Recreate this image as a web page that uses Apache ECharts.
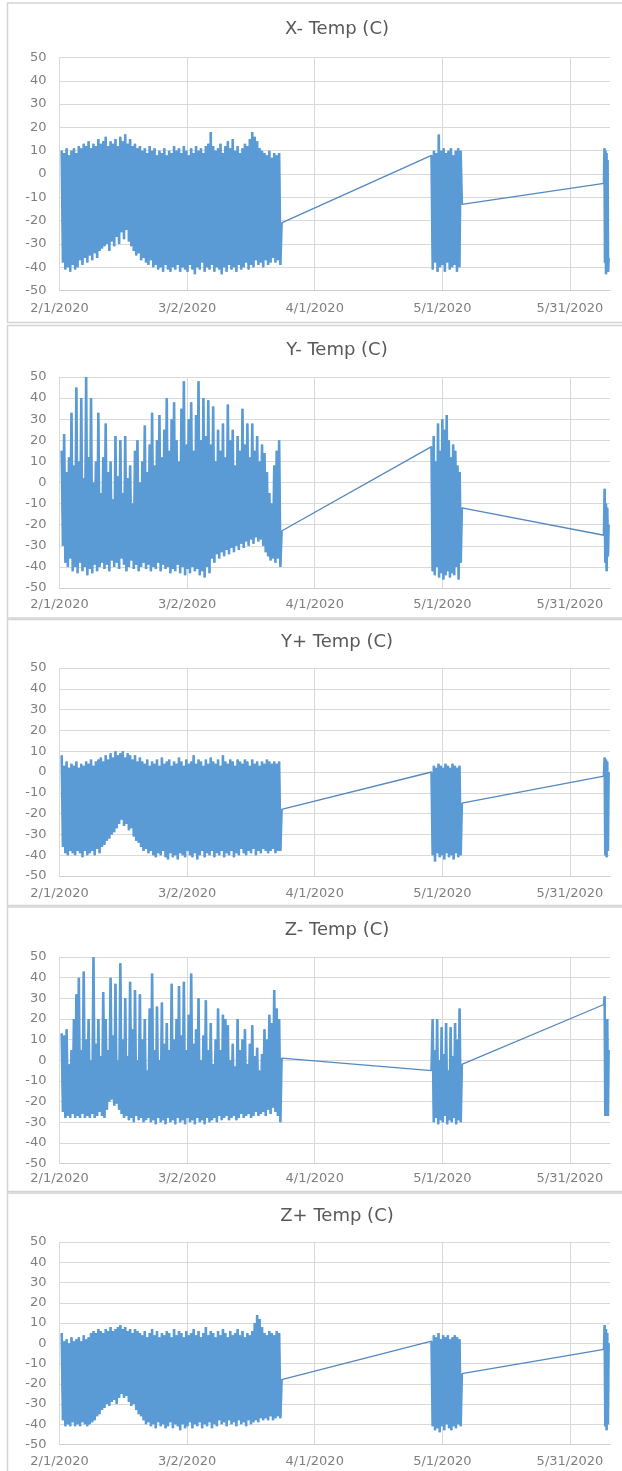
<!DOCTYPE html>
<html>
<head>
<meta charset="utf-8">
<script src="https://cdn.jsdelivr.net/npm/echarts@6/dist/echarts.min.js"></script>
<style>
html,body{margin:0;padding:0;background:#ffffff;}
#chart{width:622px;height:1471px;}
</style>
</head>
<body>
<div id="chart"></div>
<script>
// ---------------- DATA ----------------
const panelTitles = ['X- Temp (C)', 'Y- Temp (C)', 'Y+ Temp (C)', 'Z- Temp (C)', 'Z+ Temp (C)'];
const xTickLabels = ['2/1/2020', '3/2/2020', '4/1/2020', '5/1/2020', '5/31/2020'];
const axisStartDate = '2020-02-01T00:00:00Z';
const axisEndDate = '2020-06-09T10:00:00Z';
// logging periods (readings evenly spaced inside each period)
const seg1Dates = ['2020-02-01T12:30:00Z', '2020-03-24T05:00:00Z'];
const seg2Dates = ['2020-04-28T11:00:00Z', '2020-05-05T14:00:00Z'];
const seg3Dates = ['2020-06-08T00:00:00Z', '2020-06-09T02:00:00Z'];

const xMinusSeg1 = [
 10,-38, 9,-41, 11,-40, 8,-42, 10,-39, 11,-41, 9,-40, 12,-37, 11,-39, 13,-36,
 12,-38, 14,-35, 11,-37, 13,-34, 12,-36, 15,-33, 13,-32, 14,-31, 16,-30, 12,-33,
 14,-29, 13,-31, 15,-27, 12,-30, 16,-25, 14,-28, 17,-24, 13,-29, 15,-31, 12,-33,
 13,-35, 11,-34, 12,-37, 10,-36, 11,-38, 9,-39, 12,-37, 10,-40, 11,-39, 8,-41,
 10,-40, 9,-42, 11,-39, 8,-41, 10,-42, 9,-40, 12,-41, 10,-39, 11,-42, 9,-40,
 12,-41, 10,-42, 8,-39, 11,-41, 9,-43, 12,-40, 10,-41, 11,-38, 9,-42, 12,-40,
 13,-41, 18,-39, 12,-42, 10,-40, 11,-41, 13,-43, 9,-40, 12,-42, 14,-39, 11,-41,
 15,-40, 10,-42, 12,-39, 9,-41, 11,-40, 13,-38, 12,-41, 15,-39, 18,-40, 16,-37,
 14,-39, 11,-38, 10,-40, 9,-37, 8,-39, 10,-38, 7,-36, 9,-38, 8,-37, 9,-39, -21
];
const xMinusSeg2 = [8,-41, 10,-38, 9,-42, 17,-40, 10,-39, 11,-42, 9,-38, 10,-41, 11,-40, 8,-39, 10,-42, 11,-40, 10,-13];
const xMinusSeg3 = [-4, 11, -38, 10, -43, 9, -40, 6, -42, -36];

const yMinusSeg1 = [
 15,-30, 23,-38, 5,-40, 12,-36, 33,-42, 8,-40, 45,-43, 10,-38, 40,-42, 2,-40,
 50,-44, 12,-41, 40,-43, 0,-39, 10,-42, 33,-40, -5,-38, 12,-41, 28,-39, 5,-42,
 10,-37, -8,-40, 22,-38, 3,-41, 20,-36, -5,-39, 22,-42, 2,-40, 8,-37, -10,-41,
 15,-39, 20,-42, 0,-40, 10,-38, 27,-41, 5,-39, 18,-42, 33,-40, 8,-41, 20,-38,
 32,-42, 12,-39, 25,-41, 40,-40, 15,-43, 30,-41, 38,-42, 20,-39, 10,-43, 35,-40,
 48,-44, 18,-41, 30,-43, 38,-40, 15,-42, 32,-41, 48,-44, 20,-42, 40,-45, 22,-40,
 39,-43, 18,-36, 36,-38, 10,-34, 25,-36, 15,-33, 28,-35, 12,-32, 37,-34, 20,-31,
 25,-33, 8,-30, 22,-32, 15,-29, 35,-31, 18,-28, 28,-30, 12,-27, 28,-29, 15,-26,
 22,-28, 10,-27, 18,-30, 14,-33, 5,-35, -5,-37, -10,-36, 8,-38, 15,-36, 20,-40, -23
];
const yMinusSeg2 = [17,-42, 22,-44, 10,-40, 28,-45, 15,-43, 30,-46, 25,-44, 32,-42, 20,-45, 12,-43, 18,-44, 15,-40, 8,-46, 5,-38, -12];
const yMinusSeg3 = [-25, -3, -38, -10, -42, -12, -35, -20];

const yPlusSeg1 = [
 8,-36, 3,-39, 5,-40, 2,-38, 4,-39, 3,-40, 5,-38, 2,-39, 4,-41, 3,-38,
 5,-40, 4,-39, 6,-38, 3,-40, 5,-37, 6,-39,
 7,-36, 5,-35, 8,-33, 6,-32, 9,-30, 7,-29, 10,-27, 8,-25, 9,-23, 10,-26,
 7,-25, 9,-28, 8,-27, 6,-31, 8,-33, 5,-34, 7,-36,
 5,-38, 4,-37, 6,-39, 3,-38, 5,-40, 4,-41, 6,-39, 3,-40, 7,-38, 4,-41,
 5,-42, 6,-39, 3,-41, 5,-40, 4,-42, 7,-39, 5,-40, 3,-41, 6,-38, 4,-40,
 5,-41, 8,-39, 4,-42, 6,-40, 5,-38, 3,-41, 6,-39, 4,-40, 7,-38, 5,-41,
 4,-39, 6,-40, 3,-38, 8,-41, 5,-39, 4,-40, 6,-38, 5,-41, 3,-39, 6,-40,
 5,-37, 4,-39, 6,-40, 5,-38, 3,-39, 6,-37, 4,-40, 5,-38, 3,-39, 5,-37,
 4,-38, 6,-39, 5,-38, 4,-37, 5,-39, 4,-38, 5,-38, -18
];
const yPlusSeg2 = [0,-40, 3,-43, 2,-39, 4,-41, 3,-40, 2,-42, 4,-39, 3,-41, 2,-40, 4,-42, 3,-39, 2,-41, 3,-40, -15];
const yPlusSeg3 = [-2, 7, -40, 6, -41, 5, -38, 0];

const zMinusSeg1 = [
 13,-25, 12,-28, 15,-27, -2,-28, 5,-26, 20,-28, 32,-27, 40,-28, 5,-26, 43,-28,
 10,-27, 20,-28, 0,-26, 50,-28, 8,-27, 20,-25, 2,-27, 33,-28, 20,-24, 5,-20,
 40,-19, 12,-22, 37,-21, 0,-24, 47,-26, 10,-28, 30,-27, 2,-29, 38,-28, 15,-30,
 34,-27, 0,-29, 32,-28, 10,-30, 20,-29, -5,-28, 25,-30, 42,-29, 5,-31, 26,-28,
 0,-30, 28,-29, 8,-31, 18,-28, 5,-30, 37,-29, 10,-31, 20,-28, 36,-30, 12,-29,
 38,-31, 5,-28, 22,-30, 42,-29, 8,-31, 15,-28, 30,-30, 0,-29, 12,-31, 29,-28,
 5,-30, 18,-29, -2,-28, 10,-30, 25,-27, 5,-29, 22,-28, 20,-27, 17,-29, 0,-28,
 8,-27, -3,-29, 20,-28, 5,-26, 10,-28, 15,-27, -2,-26, 8,-28, 17,-27, 2,-25,
 6,-27, -5,-26, 3,-25, 15,-27, 10,-24, 22,-26, 18,-23, 34,-25, 25,-27, 20,-30, 1
];
const zMinusSeg2 = [-5, 20,-30, 5,-28, 20,-31, 0,-29, 16,-30, 3,-27, 18,-31, -5,-29, 16,-30, 2,-28, 18,-31, 10,-29, 25,-30, -2];
const zMinusSeg3 = [27, 31, -27, 10, -22, 20, -27, 5];

const zPlusSeg1 = [
 5,-38, 1,-41, 2,-40, 0,-41, 3,-39, 1,-41, 2,-40, 3,-41, 1,-39, 4,-40, 2,-41, 3,-40, 5,-39,
 6,-38, 5,-36, 7,-35, 6,-33, 5,-32, 7,-30, 6,-31, 8,-29, 6,-28, 7,-30, 8,-27,
 9,-25, 7,-27, 8,-26,
 6,-29, 7,-31, 5,-30, 7,-33, 6,-35, 5,-36,
 4,-38, 6,-40, 3,-39, 5,-41, 7,-40, 4,-42, 6,-39, 3,-41, 5,-40, 4,-42,
 6,-41, 5,-39, 3,-42, 7,-40, 4,-41, 6,-43, 5,-40, 3,-42, 6,-41, 4,-39,
 5,-42, 7,-40, 4,-41, 6,-39, 3,-42, 5,-40, 8,-41, 4,-39, 6,-42, 5,-40,
 3,-41, 6,-38, 4,-40, 7,-39, 5,-41, 3,-38, 6,-40, 4,-39, 5,-41, 7,-38,
 4,-40, 6,-39, 3,-41, 5,-38, 4,-40, 6,-39,
 10,-38, 14,-39, 12,-37, 8,-38,
 5,-37, 4,-38, 6,-36, 5,-38, 4,-37, 6,-36, 5,-37, -18
];
const zPlusSeg2 = [1,-41, 4,-43, 3,-42, 5,-44, 2,-41, 4,-43, 3,-40, 4,-42, 2,-43, 3,-41, 4,-42, 3,-40, 2,-41, -15];
const zPlusSeg3 = [-3, 9, -41, 7, -43, 5, -40, 0];

const panelSeries = [
  [xMinusSeg1, xMinusSeg2, xMinusSeg3],
  [yMinusSeg1, yMinusSeg2, yMinusSeg3],
  [yPlusSeg1, yPlusSeg2, yPlusSeg3],
  [zMinusSeg1, zMinusSeg2, zMinusSeg3],
  [zPlusSeg1, zPlusSeg2, zPlusSeg3]
];

// ---------------- LAYOUT ----------------
const panelLayout = [
  {frameTop: 3,    frameBottom: 322.5, titleY: 29,   gridTop: 57.5, gridBottom: 290.5, labelMargin: 12},
  {frameTop: 325.5,frameBottom: 618,   titleY: 350,  gridTop: 377,  gridBottom: 588,   labelMargin: 10},
  {frameTop: 619.5,frameBottom: 905.5, titleY: 642,  gridTop: 668,  gridBottom: 876,   labelMargin: 11},
  {frameTop: 907,  frameBottom: 1191.5,titleY: 930,  gridTop: 957,  gridBottom: 1163.5,labelMargin: 9},
  {frameTop: 1193, frameBottom: 1480,  titleY: 1216, gridTop: 1242, gridBottom: 1444.5,labelMargin: 11}
];
const plotLeft = 59.5, plotRight = 610;
const FONT = '"DejaVu Sans", "Noto Sans", sans-serif';
const LINE_BLUE = '#5b9bd5';
const LINK_BLUE = '#5588bf';

const DAY_MS = 86400000;
const t0 = Date.parse(axisStartDate);
function toDay(s) { return (Date.parse(s) - t0) / DAY_MS; }
function segmentPoints(values, range) {
  const a = toDay(range[0]), b = toDay(range[1]);
  const n = values.length;
  return values.map((v, k) => [a + (b - a) * k / (n - 1), v]);
}
const segRanges = [seg1Dates, seg2Dates, seg3Dates];
const xMaxDay = toDay(axisEndDate);

const grids = [], xAxes = [], yAxes = [], series = [], graphics = [];
panelLayout.forEach((L, i) => {
  graphics.push({
    type: 'rect', z: -10, silent: true,
    shape: {x: 7.5, y: L.frameTop, width: 640, height: L.frameBottom - L.frameTop},
    style: {fill: '#ffffff', stroke: '#d4d4d4', lineWidth: 1.5}
  });
  graphics.push({
    type: 'text', z: 10, silent: true, x: 337, y: L.titleY,
    style: {text: panelTitles[i], fill: '#595959', font: '18px ' + FONT, align: 'center', verticalAlign: 'middle'}
  });
  grids.push({left: plotLeft, top: L.gridTop, width: plotRight - plotLeft, height: L.gridBottom - L.gridTop, containLabel: false});
  xAxes.push({
    gridIndex: i, type: 'value', min: 0, max: xMaxDay, interval: 30,
    axisLine: {show: true, onZero: false, lineStyle: {color: '#cfcfcf', width: 1}},
    axisTick: {show: false},
    splitLine: {show: true, showMaxLine: false, lineStyle: {color: '#d9d9d9', width: 1}},
    axisLabel: {
      color: '#7f7f7f', fontFamily: FONT, fontSize: 13, margin: L.labelMargin,
      showMaxLabel: false,
      formatter: function (v) {
        const k = Math.round(v / 30);
        return (Math.abs(v - k * 30) < 1e-6 && k < xTickLabels.length) ? xTickLabels[k] : '';
      }
    }
  });
  yAxes.push({
    gridIndex: i, type: 'value', min: -50, max: 50, interval: 10,
    axisLine: {show: false}, axisTick: {show: false},
    splitLine: {show: true, lineStyle: {color: '#d9d9d9', width: 1}},
    axisLabel: {color: '#7f7f7f', fontFamily: FONT, fontSize: 13, margin: 13}
  });
  const segPts = panelSeries[i].map((vals, s) => segmentPoints(vals, segRanges[s]));
  // whole record as one thin connected line (links the logging periods)
  series.push({
    type: 'line', name: panelTitles[i], xAxisIndex: i, yAxisIndex: i,
    data: [].concat(...segPts), symbol: 'none', showSymbol: false,
    lineStyle: {color: LINK_BLUE, width: 1.3, join: 'bevel'},
    emphasis: {disabled: true}, clip: true, z: 2
  });
  // dense readings inside each logging period
  segPts.forEach((pts) => {
    series.push({
      type: 'line', name: panelTitles[i], xAxisIndex: i, yAxisIndex: i,
      data: pts, symbol: 'none', showSymbol: false,
      lineStyle: {color: LINE_BLUE, width: 2.6, join: 'bevel'},
      emphasis: {disabled: true}, clip: true, z: 3
    });
  });
});

const chart = echarts.init(document.getElementById('chart'), null, {renderer: 'canvas', width: 622, height: 1471});
chart.setOption({
  backgroundColor: '#ffffff',
  animation: false,
  graphic: graphics,
  grid: grids,
  xAxis: xAxes,
  yAxis: yAxes,
  series: series
});
</script>
</body>
</html>
